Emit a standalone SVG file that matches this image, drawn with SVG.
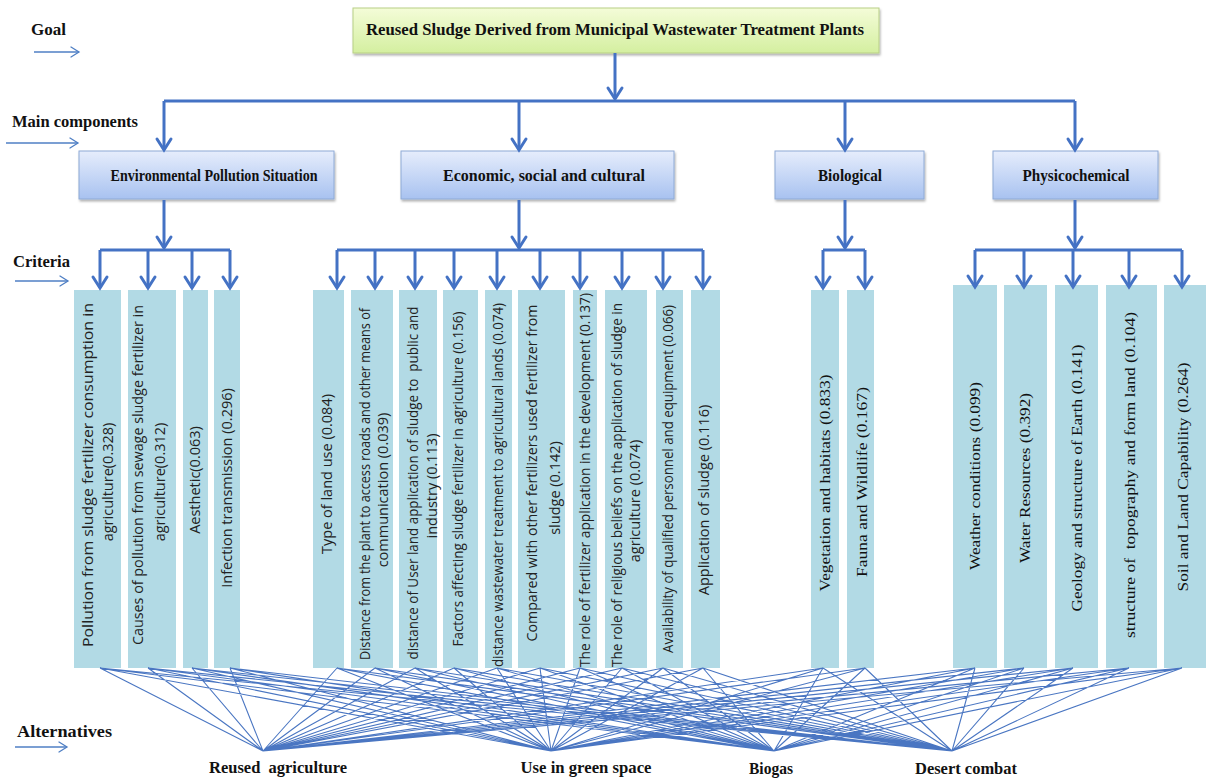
<svg xmlns="http://www.w3.org/2000/svg" width="1206" height="778" viewBox="0 0 1206 778">
<defs>
<linearGradient id="gGoal" x1="0" y1="0" x2="0" y2="1"><stop offset="0" stop-color="#f4fcd8"/><stop offset="1" stop-color="#d4efa0"/></linearGradient>
<linearGradient id="gComp" x1="0" y1="0" x2="0" y2="1"><stop offset="0" stop-color="#e6edfc"/><stop offset="1" stop-color="#a8c2f0"/></linearGradient>
<filter id="sh" x="-10%" y="-20%" width="120%" height="150%"><feDropShadow dx="1" dy="2" stdDeviation="1.2" flood-color="#000" flood-opacity="0.3"/></filter>
<marker id="ah" markerUnits="userSpaceOnUse" markerWidth="30" markerHeight="30" refX="0" refY="0" orient="auto" overflow="visible"><path d="M-11,-7 L0,0 L-11,7" fill="none" stroke="#4472c4" stroke-width="3" stroke-linejoin="miter" stroke-linecap="round"/></marker>
<marker id="lah" markerUnits="userSpaceOnUse" markerWidth="20" markerHeight="20" refX="0" refY="0" orient="auto" overflow="visible"><path d="M-8,-5 L0,0 L-8,5" fill="none" stroke="#4f7fc4" stroke-width="1.3" stroke-linecap="round"/></marker>
</defs>
<style>
.hd{font-family:"Liberation Serif","Times New Roman",serif;font-weight:bold;fill:#111;}
.lvl{font-family:"Liberation Serif","Times New Roman",serif;font-weight:bold;font-size:16px;fill:#111;}
.goal{fill:url(#gGoal);stroke:#b8cf86;stroke-width:1;filter:url(#sh);}
.comp{fill:url(#gComp);stroke:#8eaad6;stroke-width:1;filter:url(#sh);}
.crit{fill:#b2dae5;}
.cs{font-family:"Open Sans","Noto Sans",sans-serif;font-size:14.5px;fill:#222;}
.ct{font-family:"Liberation Serif","Times New Roman",serif;font-size:15px;fill:#111;}
.thick{fill:none;stroke:#4472c4;stroke-width:3;stroke-linejoin:round;}
.arr{fill:none;stroke:#4472c4;stroke-width:3;marker-end:url(#ah);}
.la{fill:none;stroke:#4f7fc4;stroke-width:1.3;marker-end:url(#lah);}
.ln{stroke:#4a76c2;stroke-width:1.1;fill:none;}
.pre{white-space:pre;}
</style>
<rect width="1206" height="778" fill="#ffffff"/>

<g id="level-labels">
<text class="lvl" x="31" y="35" textLength="35" lengthAdjust="spacingAndGlyphs">Goal</text>
<line class="la" x1="34" y1="52" x2="79" y2="52"/>
<text class="lvl" x="12" y="127" textLength="126" lengthAdjust="spacingAndGlyphs">Main components</text>
<line class="la" x1="6" y1="143" x2="78" y2="143"/>
<text class="lvl" x="13" y="267" textLength="57" lengthAdjust="spacingAndGlyphs">Criteria</text>
<line class="la" x1="15" y1="281" x2="68" y2="281"/>
<text class="lvl" x="17" y="737" textLength="95" lengthAdjust="spacingAndGlyphs">Alternatives</text>
<line class="la" x1="15" y1="747" x2="67" y2="747"/>
</g>

<g id="goal">
<rect class="goal" x="353" y="8" width="526" height="45"/>
<text class="hd" x="615" y="35" font-size="17" text-anchor="middle" textLength="498" lengthAdjust="spacingAndGlyphs">Reused Sludge Derived from Municipal Wastewater Treatment Plants</text>
</g>

<g id="comp-env">
<rect class="comp" x="79" y="151" width="255" height="48"/>
<text class="hd" x="214" y="181" font-size="16" text-anchor="middle" textLength="207" lengthAdjust="spacingAndGlyphs">Environmental Pollution Situation</text>
</g>
<g id="comp-econ">
<rect class="comp" x="401" y="151" width="273" height="48"/>
<text class="hd" x="544" y="181" font-size="16" text-anchor="middle" textLength="202" lengthAdjust="spacingAndGlyphs">Economic, social and cultural</text>
</g>
<g id="comp-bio">
<rect class="comp" x="775" y="151" width="149" height="48"/>
<text class="hd" x="850" y="181" font-size="16" text-anchor="middle" textLength="64" lengthAdjust="spacingAndGlyphs">Biological</text>
</g>
<g id="comp-phys">
<rect class="comp" x="993" y="151" width="165" height="48"/>
<text class="hd" x="1076" y="181" font-size="16" text-anchor="middle" textLength="107" lengthAdjust="spacingAndGlyphs">Physicochemical</text>
</g>

<g id="crit-env">
<rect class="crit" x="74" y="290" width="47" height="378"/>
<rect class="crit" x="128" y="290" width="48" height="378"/>
<rect class="crit" x="183" y="290" width="25" height="378"/>
<rect class="crit" x="214" y="290" width="26" height="378"/>
<text class="cs" text-anchor="middle" transform="translate(93,475) rotate(-90)" textLength="344" lengthAdjust="spacingAndGlyphs">Pollution from sludge fertilizer consumption in</text>
<text class="cs" text-anchor="middle" transform="translate(113,482) rotate(-90)">agriculture(0.328)</text>
<text class="cs" text-anchor="middle" transform="translate(143,475) rotate(-90)" textLength="340" lengthAdjust="spacingAndGlyphs">Causes of pollution from sewage sludge fertilizer in</text>
<text class="cs" text-anchor="middle" transform="translate(165,482) rotate(-90)">agriculture(0.312)</text>
<text class="cs" text-anchor="middle" transform="translate(200,480) rotate(-90)">Aesthetic(0.063)</text>
<text class="cs" text-anchor="middle" transform="translate(232,488) rotate(-90)">Infection transmission (0.296)</text>
</g>

<g id="crit-econ">
<rect class="crit" x="313" y="290" width="31" height="378"/>
<rect class="crit" x="351" y="290" width="42" height="378"/>
<rect class="crit" x="399" y="290" width="38" height="378"/>
<rect class="crit" x="443" y="290" width="35" height="378"/>
<rect class="crit" x="485" y="290" width="27" height="378"/>
<rect class="crit" x="518" y="290" width="47" height="378"/>
<rect class="crit" x="573" y="290" width="24" height="378"/>
<rect class="crit" x="605" y="290" width="42" height="378"/>
<rect class="crit" x="656" y="290" width="27" height="378"/>
<rect class="crit" x="691" y="290" width="29" height="378"/>
<text class="cs" text-anchor="middle" transform="translate(332,474) rotate(-90)">Type of land use (0.084)</text>
<text class="cs" text-anchor="middle" transform="translate(369.5,484) rotate(-90)" textLength="352" lengthAdjust="spacingAndGlyphs">Distance from the plant to access roads and other means of</text>
<text class="cs" text-anchor="middle" transform="translate(388,490) rotate(-90)">communication (0.039)</text>
<text class="cs pre" text-anchor="middle" transform="translate(417.5,483) rotate(-90)" textLength="353" lengthAdjust="spacingAndGlyphs">distance of User land application of sludge to  public and</text>
<text class="cs" text-anchor="middle" transform="translate(437,486) rotate(-90)">industry (0.113)</text>
<text class="cs" text-anchor="middle" transform="translate(463,479) rotate(-90)" textLength="335" lengthAdjust="spacingAndGlyphs">Factors affecting sludge fertilizer in agriculture (0.156)</text>
<text class="cs" text-anchor="middle" transform="translate(503,485) rotate(-90)" textLength="364" lengthAdjust="spacingAndGlyphs">distance wastewater treatment to agricultural lands (0.074)</text>
<text class="cs" text-anchor="middle" transform="translate(537,473) rotate(-90)" textLength="337" lengthAdjust="spacingAndGlyphs">Compared with other fertilizers used fertilizer from</text>
<text class="cs" text-anchor="middle" transform="translate(560,488) rotate(-90)">sludge (0.142)</text>
<text class="cs" text-anchor="middle" transform="translate(590,480) rotate(-90)" textLength="374" lengthAdjust="spacingAndGlyphs">The role of fertilizer application in the development (0.137)</text>
<text class="cs" text-anchor="middle" transform="translate(622,485) rotate(-90)" textLength="364" lengthAdjust="spacingAndGlyphs">The role of religious beliefs on the application of sludge in</text>
<text class="cs" text-anchor="middle" transform="translate(640,501) rotate(-90)">agriculture (0.074)</text>
<text class="cs" text-anchor="middle" transform="translate(673,479) rotate(-90)" textLength="348" lengthAdjust="spacingAndGlyphs">Availability of qualified personnel and equipment (0.066)</text>
<text class="cs" text-anchor="middle" transform="translate(709,500) rotate(-90)">Application of sludge (0.116)</text>
</g>

<g id="crit-bio">
<rect class="crit" x="811" y="290" width="28" height="378"/>
<rect class="crit" x="847" y="290" width="27" height="378"/>
<text class="ct" text-anchor="middle" transform="translate(830,483) rotate(-90)" textLength="217" lengthAdjust="spacingAndGlyphs">Vegetation and habitats (0.833)</text>
<text class="ct" text-anchor="middle" transform="translate(867,482) rotate(-90)" textLength="190" lengthAdjust="spacingAndGlyphs">Fauna and Wildlife (0.167)</text>
</g>

<g id="crit-phys">
<rect class="crit" x="953" y="285" width="44" height="383"/>
<rect class="crit" x="1004" y="285" width="43" height="383"/>
<rect class="crit" x="1055" y="285" width="43" height="383"/>
<rect class="crit" x="1106" y="285" width="51" height="383"/>
<rect class="crit" x="1164" y="285" width="42" height="383"/>
<text class="ct" text-anchor="middle" transform="translate(980,476) rotate(-90)" textLength="188" lengthAdjust="spacingAndGlyphs">Weather conditions (0.099)</text>
<text class="ct" text-anchor="middle" transform="translate(1030,478) rotate(-90)" textLength="170" lengthAdjust="spacingAndGlyphs">Water Resources (0.392)</text>
<text class="ct" text-anchor="middle" transform="translate(1082,478) rotate(-90)" textLength="267" lengthAdjust="spacingAndGlyphs">Geology and structure of Earth (0.141)</text>
<text class="ct pre" text-anchor="middle" transform="translate(1135,475) rotate(-90)" textLength="326" lengthAdjust="spacingAndGlyphs">structure of  topography and form land (0.104)</text>
<text class="ct" text-anchor="middle" transform="translate(1188,477) rotate(-90)" textLength="229" lengthAdjust="spacingAndGlyphs">Soil and Land Capability (0.264)</text>
</g>

<g id="alt-agri"><text class="hd pre" x="278" y="773" font-size="16" text-anchor="middle" textLength="138" lengthAdjust="spacingAndGlyphs">Reused  agriculture</text></g>
<g id="alt-green"><text class="hd" x="586" y="773" font-size="16" text-anchor="middle" textLength="131" lengthAdjust="spacingAndGlyphs">Use in green space</text></g>
<g id="alt-biogas"><text class="hd" x="771" y="774" font-size="16" text-anchor="middle" textLength="44" lengthAdjust="spacingAndGlyphs">Biogas</text></g>
<g id="alt-desert"><text class="hd" x="966" y="774" font-size="16" text-anchor="middle" textLength="102" lengthAdjust="spacingAndGlyphs">Desert combat</text></g>

<g id="connectors">
<line class="arr" x1="615" y1="53" x2="615" y2="99"/>
<path class="thick" d="M164,101 H1075"/>
<line class="arr" x1="164" y1="101" x2="164" y2="150"/>
<line class="arr" x1="519" y1="101" x2="519" y2="150"/>
<line class="arr" x1="845" y1="101" x2="845" y2="150"/>
<line class="arr" x1="1075" y1="101" x2="1075" y2="150"/>
<line class="arr" x1="164" y1="200" x2="164" y2="248"/>
<line class="arr" x1="519" y1="200" x2="519" y2="248"/>
<line class="arr" x1="845" y1="200" x2="845" y2="248"/>
<line class="arr" x1="1075" y1="200" x2="1075" y2="248"/>
<path class="thick" d="M100,250 H230"/>
<path class="thick" d="M337,250 H703"/>
<path class="thick" d="M823,250 H865"/>
<path class="thick" d="M975,250 H1182"/>
<g>
<line class="arr" x1="100" y1="250" x2="100" y2="288"/>
<line class="arr" x1="148" y1="250" x2="148" y2="288"/>
<line class="arr" x1="192" y1="250" x2="192" y2="288"/>
<line class="arr" x1="230" y1="250" x2="230" y2="288"/>
<line class="arr" x1="337" y1="250" x2="337" y2="288"/>
<line class="arr" x1="375" y1="250" x2="375" y2="288"/>
<line class="arr" x1="415" y1="250" x2="415" y2="288"/>
<line class="arr" x1="454" y1="250" x2="454" y2="288"/>
<line class="arr" x1="497" y1="250" x2="497" y2="288"/>
<line class="arr" x1="540" y1="250" x2="540" y2="288"/>
<line class="arr" x1="580" y1="250" x2="580" y2="288"/>
<line class="arr" x1="622" y1="250" x2="622" y2="288"/>
<line class="arr" x1="663" y1="250" x2="663" y2="288"/>
<line class="arr" x1="703" y1="250" x2="703" y2="288"/>
<line class="arr" x1="823" y1="250" x2="823" y2="288"/>
<line class="arr" x1="865" y1="250" x2="865" y2="288"/>
<line class="arr" x1="975" y1="250" x2="975" y2="287"/>
<line class="arr" x1="1024" y1="250" x2="1024" y2="287"/>
<line class="arr" x1="1073" y1="250" x2="1073" y2="287"/>
<line class="arr" x1="1129" y1="250" x2="1129" y2="287"/>
<line class="arr" x1="1182" y1="250" x2="1182" y2="287"/>
</g>
<path class="ln" d="M100,668L263,751M100,668L551,751M100,668L774,751M100,668L952,751
M148,668L263,751M148,668L551,751M148,668L774,751M148,668L952,751
M192,668L263,751M192,668L551,751M192,668L774,751M192,668L952,751
M230,668L263,751M230,668L551,751M230,668L774,751M230,668L952,751
M337,668L263,751M337,668L551,751M337,668L774,751M337,668L952,751
M375,668L263,751M375,668L551,751M375,668L774,751M375,668L952,751
M415,668L263,751M415,668L551,751M415,668L774,751M415,668L952,751
M454,668L263,751M454,668L551,751M454,668L774,751M454,668L952,751
M497,668L263,751M497,668L551,751M497,668L774,751M497,668L952,751
M540,668L263,751M540,668L551,751M540,668L774,751M540,668L952,751
M580,668L263,751M580,668L551,751M580,668L774,751M580,668L952,751
M622,668L263,751M622,668L551,751M622,668L774,751M622,668L952,751
M663,668L263,751M663,668L551,751M663,668L774,751M663,668L952,751
M703,668L263,751M703,668L551,751M703,668L774,751M703,668L952,751
M823,668L263,751M823,668L551,751M823,668L774,751M823,668L952,751
M865,668L263,751M865,668L551,751M865,668L774,751M865,668L952,751
M975,668L263,751M975,668L551,751M975,668L774,751M975,668L952,751
M1024,668L263,751M1024,668L551,751M1024,668L774,751M1024,668L952,751
M1073,668L263,751M1073,668L551,751M1073,668L774,751M1073,668L952,751
M1129,668L263,751M1129,668L551,751M1129,668L774,751M1129,668L952,751
M1182,668L263,751M1182,668L551,751M1182,668L774,751M1182,668L952,751"/>
</g>
</svg>
